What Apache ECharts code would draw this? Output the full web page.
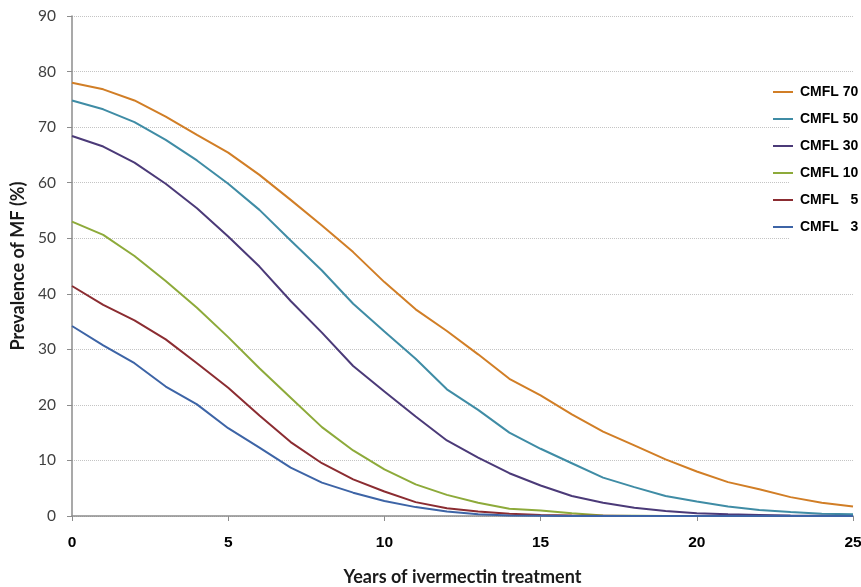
<!DOCTYPE html>
<html><head><meta charset="utf-8">
<script src="https://cdn.jsdelivr.net/npm/echarts@6/dist/echarts.min.js"></script>
<style>html,body{margin:0;padding:0;background:#fff}#c{width:861px;height:587px}</style>
</head><body><div id="c"></div>
<script>
var years = [0,1,2,3,4,5,6,7,8,9,10,11,12,13,14,15,16,17,18,19,20,21,22,23,24,25];
var cmfl70 = [78,76.8,74.8,71.9,68.6,65.4,61.4,56.9,52.3,47.5,42.1,37.2,33.3,29.1,24.7,21.7,18.3,15.2,12.7,10.2,8,6.1,4.8,3.4,2.4,1.7];
var cmfl50 = [74.8,73.2,70.9,67.7,64,59.8,55.1,49.6,44.2,38.2,33.2,28.3,22.8,19.1,15,12.1,9.5,6.9,5.2,3.6,2.6,1.7,1.1,0.7,0.4,0.3];
var cmfl30 = [68.4,66.5,63.6,59.8,55.4,50.3,44.9,38.7,33,27,22.4,17.9,13.6,10.5,7.7,5.5,3.6,2.4,1.5,0.9,0.5,0.3,0.2,0.1,0.05,0];
var cmfl10 = [53,50.6,46.8,42.3,37.5,32.2,26.6,21.3,16,11.8,8.4,5.7,3.8,2.4,1.3,1,0.5,0.1,0.05,0,0,0,0,0,0,0];
var cmfl5 = [41.4,38,35.2,31.8,27.5,23.1,18.1,13.3,9.5,6.6,4.4,2.5,1.4,0.8,0.4,0.2,0.1,0.05,0,0,0,0,0,0,0,0];
var cmfl3 = [34.2,30.7,27.5,23.3,20.1,15.8,12.3,8.7,6,4.2,2.7,1.6,0.8,0.3,0.1,0.05,0,0,0,0,0,0,0,0,0,0];
var names = ['CMFL 70','CMFL 50','CMFL 30','CMFL 10','CMFL   5','CMFL   3'];
var colors = ['#D17E26','#3F8CA5','#4B3A78','#8DAA3A','#8B2C31','#3D64A6'];
var seriesData = [cmfl70,cmfl50,cmfl30,cmfl10,cmfl5,cmfl3];

var chart = echarts.init(document.getElementById('c'));
chart.setOption({
  animation:false,
  backgroundColor:'#fff',
  grid:{left:72,right:8,top:16,bottom:71,containLabel:false,outerBoundsMode:'none'},
  xAxis:{
    type:'value',min:0,max:25,interval:5,
    name:'Years of ivermectin treatment',nameLocation:'middle',nameGap:52,
    nameTextStyle:{fontFamily:'Lato',fontWeight:'bold',fontSize:18,color:'#1a1a1a'},
    axisLine:{lineStyle:{color:'#8c8c8c',width:1.5}},
    axisTick:{show:true,length:5,inside:false,lineStyle:{color:'#8c8c8c'}},
    axisLabel:{fontFamily:'Liberation Sans',fontWeight:'bold',fontSize:15.5,color:'#000',margin:19,showMaxLabel:true,hideOverlap:false},
    splitLine:{show:false}
  },
  yAxis:{
    type:'value',min:0,max:90,interval:10,
    name:'Prevalence of MF (%)',nameLocation:'middle',nameGap:40,nameRotate:90,
    nameTextStyle:{fontFamily:'Lato',fontWeight:'bold',fontSize:18,color:'#1a1a1a'},
    axisLine:{show:true,lineStyle:{color:'#8c8c8c',width:1.5}},
    axisTick:{show:true,length:5,inside:false,lineStyle:{color:'#8c8c8c'}},
    axisLabel:{fontFamily:'Lato',fontSize:15.5,color:'#404040',margin:16},
    splitLine:{show:true,lineStyle:{color:'#c4c4c4',type:'dotted',width:1}}
  },
  graphic:[{type:'rect',shape:{x:789,y:76,width:72,height:164},style:{fill:'#fff'},z:1}],
  legend:{
    orient:'vertical',left:768,top:80,itemWidth:20,itemHeight:14,itemGap:13,
    icon:'path://M0,6 L20,6 L20,8 L0,8 Z',
    textStyle:{fontFamily:'Liberation Sans',fontWeight:'bold',fontSize:14,color:'#000',padding:[0,0,0,2]},
    data:names
  },
  series:names.map(function(n,i){
    return {name:n,type:'line',data:years.map(function(y,j){return [y,seriesData[i][j]];}),
      showSymbol:false,symbol:'none',smooth:false,z:3,
      lineStyle:{color:colors[i],width:2},itemStyle:{color:colors[i]}};
  })
});
</script></body></html>
